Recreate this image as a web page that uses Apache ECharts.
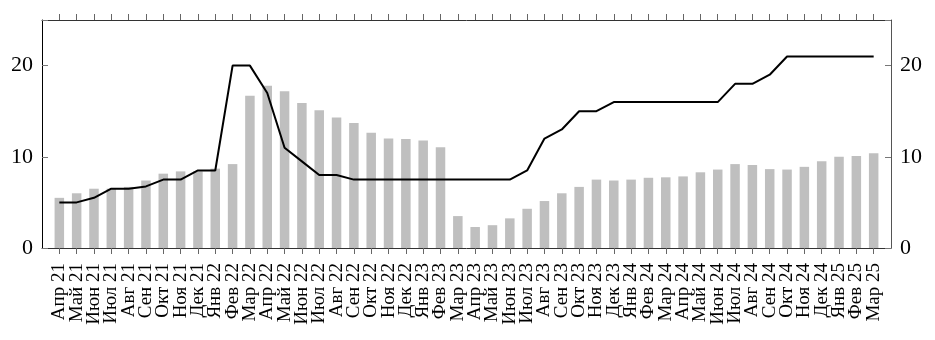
<!DOCTYPE html>
<html>
<head>
<meta charset="utf-8">
<script src="https://cdn.jsdelivr.net/npm/echarts@6/dist/echarts.min.js"></script>
<style>
  html, body { margin: 0; padding: 0; background: #fff; }
  #chart { width: 935px; height: 340px; }
</style>
</head>
<body>
<div id="chart"></div>
<script>
// Month labels, April 2021 – March 2025
const months = [
  'Апр 21','Май 21','Июн 21','Июл 21','Авг 21','Сен 21','Окт 21','Ноя 21','Дек 21',
  'Янв 22','Фев 22','Мар 22','Апр 22','Май 22','Июн 22','Июл 22','Авг 22','Сен 22','Окт 22','Ноя 22','Дек 22',
  'Янв 23','Фев 23','Мар 23','Апр 23','Май 23','Июн 23','Июл 23','Авг 23','Сен 23','Окт 23','Ноя 23','Дек 23',
  'Янв 24','Фев 24','Мар 24','Апр 24','Май 24','Июн 24','Июл 24','Авг 24','Сен 24','Окт 24','Ноя 24','Дек 24',
  'Янв 25','Фев 25','Мар 25'
];

// Grey bars
const barValues = [
  5.5, 6.0, 6.5, 6.5, 6.7, 7.4, 8.15, 8.4, 8.4,
  8.7, 9.2, 16.7, 17.8, 17.2, 15.9, 15.1, 14.3, 13.7, 12.65, 12.0, 11.95,
  11.8, 11.05, 3.5, 2.3, 2.5, 3.25, 4.3, 5.15, 6.0, 6.7, 7.5, 7.4,
  7.5, 7.7, 7.75, 7.85, 8.3, 8.6, 9.2, 9.1, 8.65, 8.6, 8.9, 9.5,
  10.0, 10.1, 10.4
];

// Black line
const lineValues = [
  5, 5, 5.5, 6.5, 6.5, 6.75, 7.5, 7.5, 8.5,
  8.5, 20, 20, 17, 11, 9.5, 8, 8, 7.5, 7.5, 7.5, 7.5,
  7.5, 7.5, 7.5, 7.5, 7.5, 7.5, 8.5, 12, 13, 15, 15, 16,
  16, 16, 16, 16, 16, 16, 18, 18, 19, 21, 21, 21,
  21, 21, 21
];

const yTicks = [0, 10, 20];

const serif = '"Liberation Serif", "DejaVu Serif", serif';
const frameColor = '#333';
const tickIdx = months.map((_, i) => i);

const chart = echarts.init(document.getElementById('chart'), null, { renderer: 'canvas' });

const xCommon = {
  type: 'value',
  min: -1,
  max: months.length,
  interval: 1,
  splitLine: { show: false },
  axisLine: { show: true, onZero: false, lineStyle: { color: frameColor, width: 1 } }
};

const yCommon = {
  type: 'value', min: 0, max: 25, interval: 10,
  splitLine: { show: false },
  axisTick: { show: true, inside: true, length: 6, lineStyle: { color: '#777' } },
  axisLabel: {
    margin: 9, fontFamily: serif, fontSize: 22, color: '#000',
    formatter: v => yTicks.includes(v) ? String(v) : ''
  }
};

chart.setOption({
  animation: false,
  backgroundColor: '#fff',
  grid: { left: 42, right: 44, top: 20, bottom: 92, containLabel: false },
  xAxis: [
    Object.assign({}, xCommon, {
      position: 'bottom',
      axisTick: { show: true, inside: false, length: 6, lineStyle: { color: '#666' }, customValues: tickIdx },
      axisLabel: {
        show: true,
        rotate: 90,
        margin: 15,
        fontFamily: serif,
        fontSize: 19,
        color: '#000',
        showMinLabel: true,
        showMaxLabel: true,
        hideOverlap: false,
        formatter: v => (months[v] !== undefined ? months[v] : '')
      }
    }),
    Object.assign({}, xCommon, {
      position: 'top',
      axisTick: { show: true, inside: false, length: 6, lineStyle: { color: '#666' }, customValues: tickIdx },
      axisLabel: { show: false }
    })
  ],
  yAxis: [
    Object.assign({}, yCommon, {
      position: 'left',
      axisLine: { show: true, onZero: false, lineStyle: { color: '#000', width: 1 } }
    }),
    Object.assign({}, yCommon, {
      position: 'right',
      axisLine: { show: true, onZero: false, lineStyle: { color: '#555', width: 1 } }
    })
  ],
  series: [
    {
      type: 'bar',
      xAxisIndex: 0,
      yAxisIndex: 0,
      barWidth: 9.5,
      itemStyle: { color: '#bfbfbf' },
      data: barValues.map((v, i) => [i, v]),
      z: 2
    },
    {
      type: 'line',
      xAxisIndex: 0,
      yAxisIndex: 0,
      symbol: 'none',
      lineStyle: { color: '#000', width: 2 },
      data: lineValues.map((v, i) => [i, v]),
      z: 3
    }
  ]
});
</script>
</body>
</html>
